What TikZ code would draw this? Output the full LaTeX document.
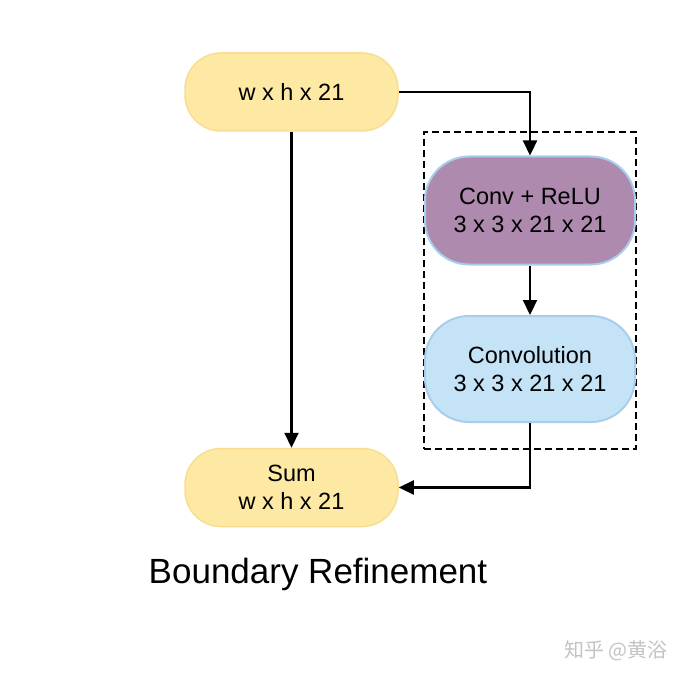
\documentclass[tikz,border=0pt]{standalone}
\usepackage{fontspec}
\setmainfont{Liberation Sans}
\newfontfamily\cjk{Noto Sans CJK SC}
\usetikzlibrary{arrows.meta}
\definecolor{yfill}{RGB}{253,232,164}
\definecolor{ydraw}{RGB}{249,221,145}
\definecolor{pfill}{RGB}{174,138,175}
\definecolor{bfill}{RGB}{196,227,246}
\definecolor{bdraw}{RGB}{168,206,236}
\definecolor{wm}{RGB}{195,195,195}
\begin{document}
\begin{tikzpicture}[x=1pt,y=-1pt,
  every node/.style={font=\fontsize{23.5}{28.5}\selectfont, align=center, inner sep=0pt},
  ybox/.style={fill=yfill, draw=ydraw, line width=1.5pt, rounded corners=36pt, minimum width=213pt, minimum height=78pt},
  pbox/.style={fill=pfill, draw=bdraw, line width=2pt, rounded corners=44pt, minimum width=210pt, minimum height=108pt},
  bbox/.style={fill=bfill, draw=bdraw, line width=2pt, rounded corners=44pt, minimum width=210pt, minimum height=106pt},
  conn/.style={draw=black, line width=2.2pt, -{Triangle[length=15pt,width=14pt]}},
  frame/.style={draw=black, line width=2.2pt, dash pattern=on 7pt off 4pt}
]
\useasboundingbox (0,0) rectangle (687,679);
\fill[white] (0,0) rectangle (687,679);
\node[frame, minimum width=212pt, minimum height=317pt] (grp) at (530,290.5) {};
\node[ybox] (in) at (291.5,92) {w x h x 21};
\node[pbox] (cr) at (530,210.5) {Conv + ReLU\\3 x 3 x 21 x 21};
\node[bbox] (cv) at (530,369) {Convolution\\3 x 3 x 21 x 21};
\node[ybox] (sum) at (291.5,487.5) {Sum\\w x h x 21};
\node[font=\fontsize{35}{40}\selectfont] (title) at (318,574) {Boundary Refinement};
\node[font=\cjk\fontsize{20}{22}\selectfont, text=wm] (wmk) at (616,651) {知乎 @黄浴};
\draw[conn] (in.east) -| (cr.north);
\draw[conn] (in.south) -- (sum.north);
\draw[conn] (cr.south) -- (cv.north);
\draw[conn] (cv.south) |- (sum.east);
\end{tikzpicture}
\end{document}
